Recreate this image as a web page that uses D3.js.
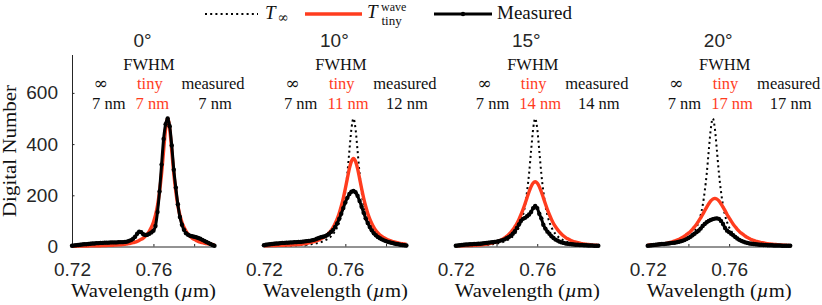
<!DOCTYPE html>
<html><head><meta charset="utf-8">
<script src="https://cdn.jsdelivr.net/npm/d3@7"></script>
<style>body{margin:0;background:#fff}svg{display:block}</style>
</head><body><svg id="c" width="822" height="305"></svg>
<script>
// wavelength grid (µm)
const wavelength = [0.720,0.721,0.722,0.723,0.724,0.725,0.726,0.727,0.728,0.729,0.730,0.731,0.732,0.733,0.734,0.735,0.736,0.737,0.738,0.739,0.740,0.741,0.742,0.743,0.744,0.745,0.746,0.747,0.748,0.749,0.750,0.751,0.752,0.753,0.754,0.755,0.756,0.757,0.758,0.759,0.760,0.761,0.762,0.763,0.764,0.765,0.766,0.767,0.768,0.769,0.770,0.771,0.772,0.773,0.774,0.775,0.776,0.777,0.778,0.779,0.780,0.781,0.782,0.783,0.784,0.785,0.786,0.787,0.788,0.789,0.790];
const angles = ["0°","10°","15°","20°"];
const fwhmInf = ["7 nm","7 nm","7 nm","7 nm"];
const fwhmTiny = ["7 nm","11 nm","14 nm","17 nm"];
const fwhmMeas = ["7 nm","12 nm","14 nm","17 nm"];
const xTicks = [0.72,0.74,0.76,0.78];
const xTickLabels = ["0.72","","0.76",""];
const yTicks = [0,200,400,600];

// 0 deg
const tInf0 = [1,1,1,2,2,2,2,2,2,3,3,3,3,3,3,4,4,4,5,5,5,6,6,7,7,8,9,10,11,13,15,17,20,24,28,33,40,49,60,75,95,122,160,215,285,375,460,500,460,375,285,215,160,122,95,75,60,49,40,33,28,24,20,17,15,13,11,10,9,8,7];
const tTiny0 = [1,1,1,2,2,2,2,2,2,3,3,3,3,3,3,4,4,4,5,5,5,6,6,7,7,8,9,10,11,13,15,17,20,24,28,33,40,49,60,75,95,122,160,215,285,375,460,500,460,375,285,215,160,122,95,75,60,49,40,33,28,24,20,17,15,13,11,10,9,8,7];
const meas0 = [3,4,5,6,7,8,9,9,10,11,12,12,13,13,14,14,15,15,15,16,16,16,16,17,17,17,18,19,22,25,30,38,50,58,56,48,45,46,50,55,62,80,135,215,320,420,478,500,470,395,300,230,165,115,85,65,52,46,42,40,38,36,33,30,26,22,18,14,10,6,3];
// 10 deg
const tInf10 = [2,2,2,2,2,2,3,3,3,3,3,3,4,4,4,5,5,5,6,6,7,7,8,9,10,11,13,15,17,20,24,28,33,40,49,60,75,95,122,160,215,285,375,460,500,460,375,285,215,160,122,95,75,60,49,40,33,28,24,20,17,15,13,11,10,9,8,7,6,6,5];
const tTiny10 = [3,3,3,4,4,4,4,5,5,5,5,6,6,6,7,7,8,8,9,10,11,12,14,16,18,20,23,26,30,34,39,45,53,63,75,90,108,130,157,189,226,266,305,333,344,333,305,266,226,189,157,130,108,90,75,63,53,45,39,34,30,26,23,20,18,16,14,12,11,10,9];
const meas10 = [5,7,8,9,10,11,12,12,13,14,14,15,15,16,16,17,17,18,18,19,20,21,22,23,25,27,30,33,36,38,40,44,50,57,65,76,90,108,128,150,172,190,205,214,217,212,198,178,155,132,110,92,76,63,52,44,37,32,28,24,21,18,16,14,12,10,9,7,6,5,4];
// 15 deg
const tInf15 = [2,3,3,3,3,3,3,4,4,4,5,5,5,6,6,7,7,8,9,10,11,13,15,17,20,24,28,33,40,49,60,75,95,122,160,215,285,375,460,500,460,375,285,215,160,122,95,75,60,49,40,33,28,24,20,17,15,13,11,10,9,8,7,7,6,6,5,5,5,4,4];
const tTiny15 = [2,3,3,3,3,4,4,4,4,5,5,6,6,7,8,9,10,12,14,16,18,21,24,29,34,40,47,55,65,77,90,106,124,144,167,191,214,234,248,253,248,234,214,191,167,144,124,106,90,77,66,56,48,41,35,30,26,22,19,17,15,13,11,10,9,8,7,6,5,5,4];
const meas15 = [3,4,5,6,7,8,8,9,9,10,10,11,11,12,13,14,15,16,17,18,19,21,23,25,28,32,36,42,50,60,72,86,100,108,112,118,125,135,150,158,150,128,110,85,70,58,50,40,33,27,23,19,16,14,12,11,10,9,8,7,7,6,6,5,5,4,4,4,3,3,3];
// 20 deg
const tInf20 = [4,4,4,5,5,5,6,6,7,7,8,9,10,11,13,15,17,20,24,28,33,40,49,60,75,95,122,160,215,285,375,460,500,460,375,285,215,160,122,95,75,60,49,40,33,28,24,20,17,15,13,11,10,9,8,7,7,6,6,5,5,5,4,4,4,3,3,3,3,3,3];
const tTiny20 = [5,6,6,7,7,8,9,10,11,12,14,16,18,21,24,27,31,35,40,46,52,59,67,77,87,99,112,125,140,154,167,178,185,188,185,178,167,154,140,125,112,99,87,77,67,59,52,46,40,35,31,27,24,21,19,17,15,14,12,11,10,9,8,8,7,6,6,5,5,4,4];
const meas20 = [3,4,5,6,7,8,9,10,10,11,12,13,14,15,16,18,20,22,25,29,33,38,44,50,56,62,70,80,88,95,100,104,107,109,110,108,100,88,72,62,56,50,44,37,31,26,22,19,16,14,12,11,10,9,8,7,7,6,6,5,5,5,4,4,4,4,3,3,3,3,3];

const panels = [
  {tInf: tInf0, tTiny: tTiny0, meas: meas0},
  {tInf: tInf10, tTiny: tTiny10, meas: meas10},
  {tInf: tInf15, tTiny: tTiny15, meas: meas15},
  {tInf: tInf20, tTiny: tTiny20, meas: meas20}
];

const RED = "#ff3c1e", INK = "#262626", TXT = "#111";
const SANS = "'Liberation Sans', Arial, Helvetica, sans-serif";
const SERIF = "'Liberation Serif', 'Times New Roman', serif";
const INF = "'DejaVu Serif', serif";
const svg = d3.select("#c");

const y = d3.scaleLinear().domain([0, 750]).range([246.5, 54.5]);
const step = 191.9, W = 142.5, left0 = 72;

panels.forEach((p, k) => {
  const L = left0 + k * step;
  const x = d3.scaleLinear().domain([0.72, 0.79]).range([L, L + W]);
  const g = svg.append("g");

  const xa = g.append("g").attr("transform", `translate(0,${y(0)})`)
    .call(d3.axisBottom(x).tickValues(xTicks).tickSizeInner(-2.5).tickSizeOuter(0).tickPadding(16.5)
      .tickFormat((d, i) => xTickLabels[i]));
  xa.selectAll("path,line").attr("stroke", INK).attr("stroke-width", 1);
  xa.selectAll("text").attr("font-family", SANS).attr("font-size", 19).attr("fill", INK);

  if (k === 0) {
    const ya = g.append("g").attr("transform", `translate(${L},0)`)
      .call(d3.axisLeft(y).tickValues(yTicks).tickSizeInner(-2.5).tickSizeOuter(0).tickPadding(14));
    ya.selectAll("path,line").attr("stroke", INK).attr("stroke-width", 1);
    ya.selectAll("text").attr("font-family", SANS).attr("font-size", 19).attr("fill", INK);
    svg.append("text").attr("transform", `translate(16,151) rotate(-90)`)
      .attr("text-anchor", "middle").attr("font-family", SERIF).attr("font-size", 19)
      .attr("fill", TXT).attr("textLength", 132).attr("lengthAdjust", "spacingAndGlyphs")
      .text("Digital Number");
  }

  const line = d3.line().x((d, i) => x(wavelength[i])).y(d => y(d)).curve(d3.curveMonotoneX);

  g.append("path").attr("d", line(p.tInf)).attr("fill", "none").attr("stroke", "#000")
    .attr("stroke-width", 2).attr("stroke-dasharray", "2 3.2");
  g.append("path").attr("d", line(p.tTiny)).attr("fill", "none").attr("stroke", RED)
    .attr("stroke-width", 3.4);
  g.append("path").attr("d", line(p.meas)).attr("fill", "none").attr("stroke", "#000")
    .attr("stroke-width", 3);
  g.selectAll("circle.m").data(p.meas).join("circle").attr("class", "m")
    .attr("cx", (d, i) => x(wavelength[i])).attr("cy", d => y(d)).attr("r", 2.2).attr("fill", "#000");

  const xl = g.append("text").attr("x", L + 71.5).attr("y", 297).attr("text-anchor", "middle")
    .attr("font-family", SERIF).attr("font-size", 19).attr("fill", TXT)
    .attr("textLength", 145).attr("lengthAdjust", "spacingAndGlyphs");
  xl.append("tspan").text("Wavelength (");
  xl.append("tspan").attr("font-style", "italic").text("µ");
  xl.append("tspan").text("m)");

  g.append("text").attr("x", L + 70.5).attr("y", 47).attr("text-anchor", "middle")
    .attr("font-family", SANS).attr("font-size", 19).attr("fill", INK).text(angles[k]);
  const t = (tx, ty, s, anchor, col, fs, ff) => g.append("text").attr("x", tx).attr("y", ty)
    .attr("text-anchor", anchor).attr("font-family", ff || SERIF).attr("font-size", fs || 16.5)
    .attr("fill", col).text(s);
  t(L + 77, 70, "FWHM", "middle", TXT);
  t(L + 28.5, 89, "∞", "middle", TXT, 17, INF);
  t(L + 65, 89, "tiny", "start", RED);
  t(L + 141, 89, "measured", "middle", TXT);
  t(L + 20, 108.5, fwhmInf[k], "start", TXT);
  t(L + 63.5, 108.5, fwhmTiny[k], "start", RED);
  t(L + 143, 108.5, fwhmMeas[k], "middle", TXT);
});

// legend
const lg = svg.append("g");
const ly = 14;
lg.append("line").attr("x1", 205).attr("x2", 258).attr("y1", ly).attr("y2", ly)
  .attr("stroke", "#000").attr("stroke-width", 2).attr("stroke-dasharray", "2 3.2");
lg.append("text").attr("x", 265).attr("y", 19).attr("font-family", SERIF).attr("font-size", 19)
  .attr("font-style", "italic").attr("fill", TXT).text("T");
lg.append("text").attr("x", 283).attr("y", 22).attr("text-anchor", "middle").attr("font-family", INF)
  .attr("font-size", 13.5).attr("fill", TXT).text("∞");
lg.append("line").attr("x1", 305).attr("x2", 362).attr("y1", ly).attr("y2", ly)
  .attr("stroke", RED).attr("stroke-width", 3.4);
lg.append("text").attr("x", 367).attr("y", 18).attr("font-family", SERIF).attr("font-size", 19)
  .attr("font-style", "italic").attr("fill", TXT).text("T");
lg.append("text").attr("x", 381).attr("y", 11).attr("font-family", SERIF).attr("font-size", 12).attr("fill", TXT).text("wave");
lg.append("text").attr("x", 381.5).attr("y", 24.5).attr("font-family", SERIF).attr("font-size", 13).attr("fill", TXT).text("tiny");
lg.append("line").attr("x1", 434).attr("x2", 492).attr("y1", ly).attr("y2", ly)
  .attr("stroke", "#000").attr("stroke-width", 2.8);
lg.append("circle").attr("cx", 463).attr("cy", ly).attr("r", 2.2).attr("fill", "#000");
lg.append("text").attr("x", 497).attr("y", 19).attr("font-family", SERIF).attr("font-size", 19)
  .attr("fill", TXT).text("Measured");
</script></body></html>
